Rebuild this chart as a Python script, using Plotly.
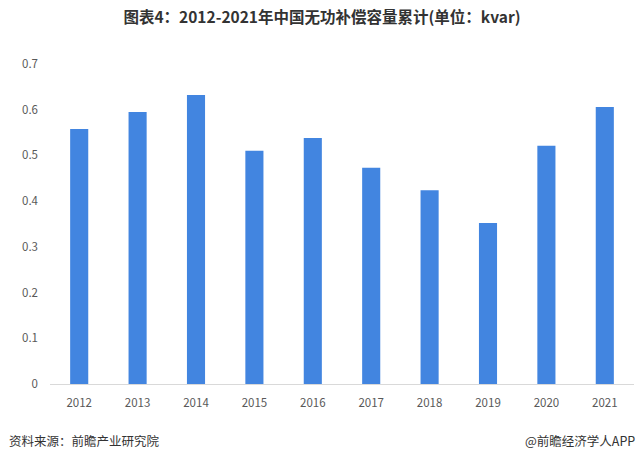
import plotly.graph_objects as go

years = ["2012", "2013", "2014", "2015", "2016", "2017", "2018", "2019", "2020", "2021"]
values = [0.558, 0.595, 0.632, 0.510, 0.538, 0.473, 0.424, 0.352, 0.521, 0.606]
y_ticks = [0, 0.1, 0.2, 0.3, 0.4, 0.5, 0.6, 0.7]
y_tick_labels = ["0", "0.1", "0.2", "0.3", "0.4", "0.5", "0.6", "0.7"]

title_text = "图表4：2012-2021年中国无功补偿容量累计(单位：kvar)"
source_text = "资料来源：前瞻产业研究院"
brand_text = "@前瞻经济学人APP"

font_family = "Noto Sans CJK SC, Noto Sans, sans-serif"

fig = go.Figure()
fig.add_trace(go.Bar(
    x=years, y=values,
    marker=dict(color="#4285E0", line=dict(width=0)),
    hoverinfo="x+y",
))

fig.update_layout(
    width=644, height=465,
    margin=dict(l=50, r=10, t=64, b=81),
    paper_bgcolor="white", plot_bgcolor="white",
    bargap=0.69,
    showlegend=False,
    font=dict(family=font_family, color="#595959", size=11),
    title=dict(text="<b>" + title_text + "</b>", x=0.5, xanchor="center",
               y=0.962, yanchor="middle",
               font=dict(family=font_family, size=15.5, color="#333333")),
    xaxis=dict(showline=True, linecolor="#D9D9D9", linewidth=1, showgrid=False,
               ticks="", ticklabelstandoff=8,
               tickfont=dict(size=11.5, color="#595959")),
    yaxis=dict(range=[0, 0.7], tickvals=y_ticks, ticktext=y_tick_labels,
               showgrid=False, showline=False, zeroline=False, ticks="",
               ticklabelstandoff=11,
               tickfont=dict(size=11.5, color="#595959")),
    annotations=[
        dict(text=source_text, xref="paper", yref="paper", x=-0.073, y=-0.178,
             xanchor="left", yanchor="middle", showarrow=False,
             font=dict(family=font_family, size=12.5, color="#333333")),
        dict(text=brand_text, xref="paper", yref="paper", x=1.005, y=-0.178,
             xanchor="right", yanchor="middle", showarrow=False,
             font=dict(family=font_family, size=12.5, color="#333333")),
    ],
)

fig.write_html("out.html")
